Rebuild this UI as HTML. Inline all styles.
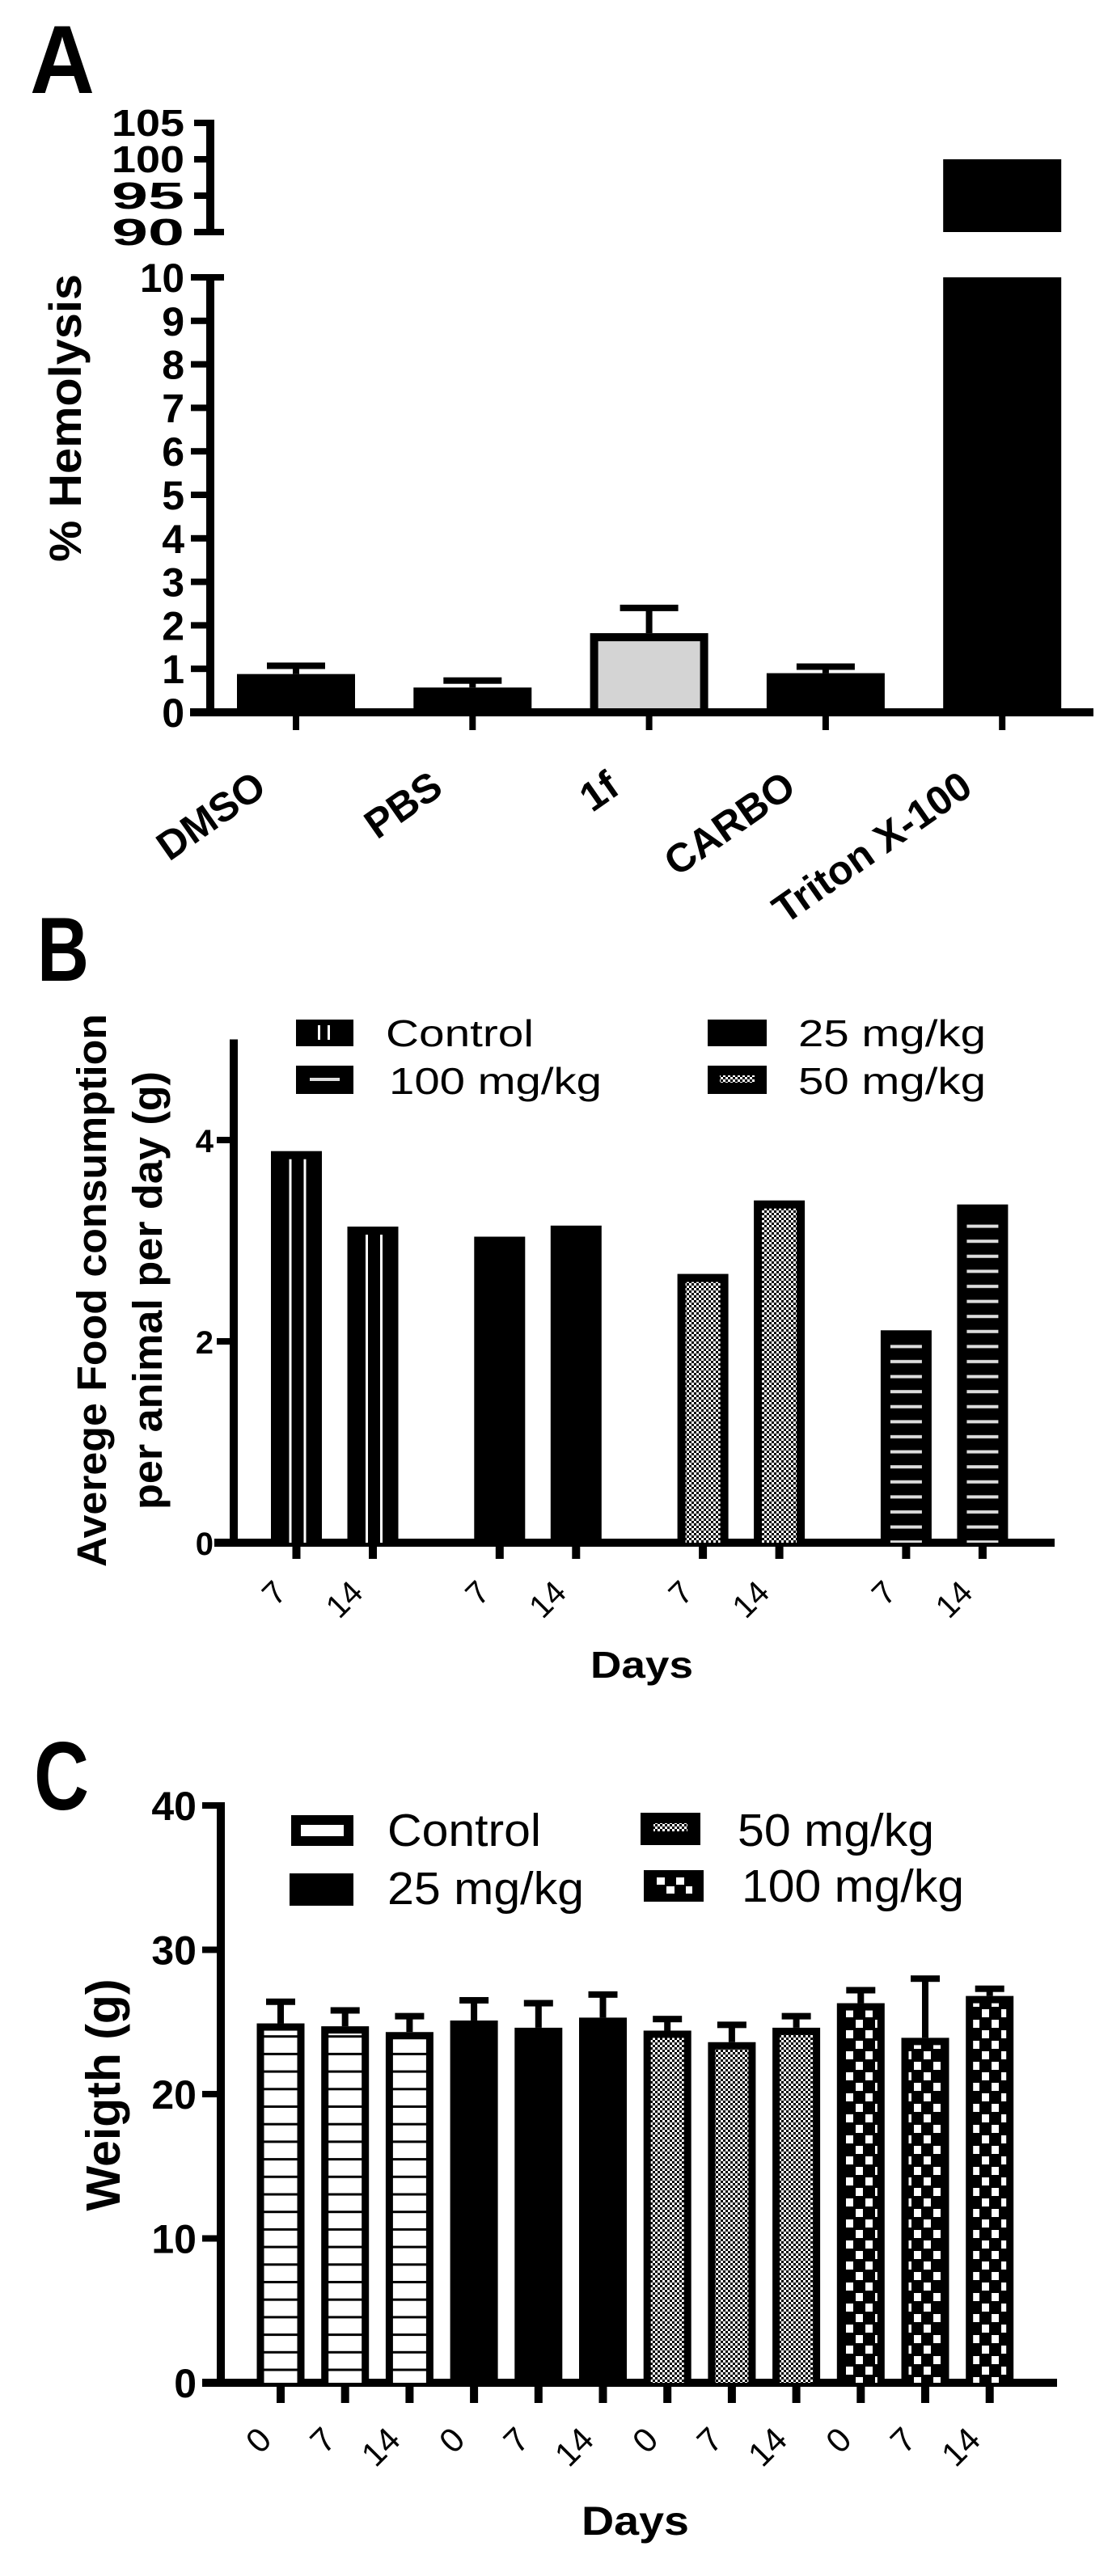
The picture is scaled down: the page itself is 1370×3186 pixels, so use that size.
<!DOCTYPE html>
<html><head><meta charset="utf-8"><style>
html,body{margin:0;padding:0;background:#fff;}
svg{display:block;}
text{font-family:"Liberation Sans",Arial,sans-serif;fill:#000;}
</style></head><body>
<svg id="fig" width="1370" height="3186" viewBox="0 0 1370 3186" xmlns="http://www.w3.org/2000/svg">
<defs>
<pattern id="pChk" width="6" height="6" patternUnits="userSpaceOnUse"><rect width="6" height="6" fill="#fff"/><rect width="3" height="3" fill="#000"/><rect x="3" y="3" width="3" height="3" fill="#000"/></pattern>
<pattern id="pBig" width="24" height="26" patternUnits="userSpaceOnUse"><rect width="24" height="26" fill="#000"/><rect x="2" y="2" width="9" height="10" fill="#fff"/><rect x="14" y="15" width="9" height="10" fill="#fff"/></pattern>
<pattern id="pHz" width="10" height="21.7" patternUnits="userSpaceOnUse"><rect width="10" height="21.7" fill="#fff"/><rect y="0" width="10" height="3" fill="#000"/></pattern>
<pattern id="pDash" width="10" height="18.6" patternUnits="userSpaceOnUse"><rect width="10" height="18.6" fill="#000"/><rect y="8" width="10" height="4" fill="#ddd"/></pattern>
</defs>

<!-- Panel A -->
<g>
<text x="37" y="115" font-size="120" font-weight="bold" textLength="80" lengthAdjust="spacingAndGlyphs">A</text>
<text transform="translate(100,517) rotate(-90)" text-anchor="middle" font-size="56" font-weight="bold" textLength="356" lengthAdjust="spacingAndGlyphs">% Hemolysis</text>
<g id="axA"></g>
<g id="barsA"></g>
</g>

<!-- Panel B -->
<g>
<text x="46" y="1213" font-size="112" font-weight="bold" textLength="64" lengthAdjust="spacingAndGlyphs">B</text>
<text transform="translate(131,1596) rotate(-90)" text-anchor="middle" font-size="51" font-weight="bold" textLength="684" lengthAdjust="spacingAndGlyphs">Averege Food consumption</text>
<text transform="translate(200,1596) rotate(-90)" text-anchor="middle" font-size="51" font-weight="bold" textLength="542" lengthAdjust="spacingAndGlyphs">per animal per day (g)</text>
<text x="730" y="2075" font-size="46" font-weight="bold" textLength="127" lengthAdjust="spacingAndGlyphs">Days</text>
<g>
 <g>
  <rect x="366" y="1261" width="71" height="33" fill="#000"/>
  <rect x="393" y="1268" width="3" height="18" fill="#fff"/><rect x="405" y="1268" width="3" height="18" fill="#fff"/>
  <text x="477" y="1294" font-size="46" textLength="183" lengthAdjust="spacingAndGlyphs">Control</text>
 </g>
 <g>
  <rect x="366" y="1318" width="71" height="35" fill="#000"/>
  <rect x="383" y="1333" width="37" height="4" fill="#ddd"/>
  <text x="481" y="1353" font-size="46" textLength="263" lengthAdjust="spacingAndGlyphs">100 mg/kg</text>
 </g>
 <g>
  <rect x="875" y="1261" width="73" height="33" fill="#000"/>
  <text x="987" y="1294" font-size="46" textLength="232" lengthAdjust="spacingAndGlyphs">25 mg/kg</text>
 </g>
 <g>
  <rect x="875" y="1318" width="73" height="35" fill="#000"/>
  <rect x="890" y="1330" width="43" height="9" fill="url(#pChk)"/>
  <text x="987" y="1353" font-size="46" textLength="232" lengthAdjust="spacingAndGlyphs">50 mg/kg</text>
 </g>
</g>
<g id="axB"></g>
<g id="barsB"></g>
</g>

<!-- Panel C -->
<g>
<text x="42" y="2238" font-size="120" font-weight="bold" textLength="68" lengthAdjust="spacingAndGlyphs">C</text>
<text transform="translate(148,2591) rotate(-90)" text-anchor="middle" font-size="59" font-weight="bold" textLength="287" lengthAdjust="spacingAndGlyphs">Weigth (g)</text>
<text x="719" y="3135" font-size="50" font-weight="bold" textLength="133" lengthAdjust="spacingAndGlyphs">Days</text>
<g>
 <g>
  <rect x="360" y="2245" width="77" height="38" fill="#000"/>
  <rect x="372" y="2257" width="53" height="14" fill="#fff"/>
  <text x="479" y="2283" font-size="57" textLength="190" lengthAdjust="spacingAndGlyphs">Control</text>
 </g>
 <g>
  <rect x="358" y="2317" width="79" height="40" fill="#000"/>
  <text x="479" y="2355" font-size="57" textLength="243" lengthAdjust="spacingAndGlyphs">25 mg/kg</text>
 </g>
 <g>
  <rect x="792" y="2242" width="74" height="40" fill="#000"/>
  <rect x="808" y="2255" width="42" height="10" fill="url(#pChk)"/>
  <text x="912" y="2283" font-size="57" textLength="243" lengthAdjust="spacingAndGlyphs">50 mg/kg</text>
 </g>
 <g>
  <rect x="796" y="2313" width="74" height="39" fill="#000"/>
  <rect x="812" y="2322" width="10" height="9" fill="#fff"/><rect x="836" y="2322" width="10" height="9" fill="#fff"/>
  <rect x="824" y="2333" width="10" height="9" fill="#fff"/><rect x="848" y="2333" width="8" height="9" fill="#fff"/>
  <text x="917" y="2352" font-size="57" textLength="275" lengthAdjust="spacingAndGlyphs">100 mg/kg</text>
 </g>
</g>
<g id="axC"></g>
<g id="barsC"></g>
</g>
</svg>
<script>
// ---------- data ----------
const catsA = ["DMSO","PBS","1f","CARBO","Triton X-100"];
const valsA = [0.88, 0.57, 1.82, 0.9, 100];
const errA = [1.07, 0.73, 2.4, 1.05, 100];
const fillsA = ["#000","#000","#d4d4d4","#000","#000"];
const ticksLowA = [0,1,2,3,4,5,6,7,8,9,10];
const ticksHighA = [90,95,100,105];

const groupsB = ["Control","25 mg/kg","50 mg/kg","100 mg/kg"];
const daysB = ["7","14"];
const valsB = [[3.89,3.14],[3.04,3.15],[2.67,3.40],[2.11,3.36]];
const ticksB = [0,2,4];

const groupsC = ["Control","25 mg/kg","50 mg/kg","100 mg/kg"];
const daysC = ["0","7","14"];
const valsC = [[24.9,24.7,24.3],[25.1,24.6,25.3],[24.4,23.6,24.6],[26.3,23.9,26.8]];
const errC = [[26.4,25.8,25.4],[26.5,26.3,26.9],[25.2,24.8,25.4],[27.2,28.0,27.3]];
const ticksC = [0,10,20,30,40];

const NS = "http://www.w3.org/2000/svg";
function mk(parent, tag, attrs){ const e=document.createElementNS(NS,tag); for(const k in attrs) e.setAttribute(k,attrs[k]); parent.appendChild(e); return e; }

// ---------- Panel A ----------
const yLowA = v => 881 - v*53.8;
const yHighA = v => 287 - (v-90)*9;
const xA = i => 366 + i*218.3;
const axA = document.getElementById('axA');
const barsA = document.getElementById('barsA');
let l;
l = mk(axA,'rect',{x:255,y:yLowA(10)-4,width:10,height:yLowA(0)-yLowA(10)+8,fill:'#000'});


l = mk(axA,'rect',{x:255,y:yHighA(105)-4,width:10,height:yHighA(90)-yHighA(105)+8,fill:'#000'});


l = mk(axA,'rect',{x:235,y:yLowA(0)-5,width:1352-235,height:10,fill:'#000'});


ticksLowA.forEach(v=>{
  const y=yLowA(v);
  const r = mk(axA,'rect',{x:236,y:y-4,width:22,height:8,fill:'#000'});
  
  
  const t = mk(axA,'text',{x:228,y:y+18,'text-anchor':'end','font-size':50,'font-weight':'bold'});
  if(String(v).length>1){ t.setAttribute('textLength',55); t.setAttribute('lengthAdjust','spacingAndGlyphs'); }
  t.textContent = v;
  
  
});
l = mk(axA,'rect',{x:255,y:yLowA(10)-4,width:22,height:8,fill:'#000'});


l = mk(axA,'rect',{x:255,y:yHighA(90)-4,width:22,height:8,fill:'#000'});


ticksHighA.forEach(v=>{
  const y=yHighA(v);
  const r = mk(axA,'rect',{x:240,y:y-4,width:20,height:8,fill:'#000'});
  
  
  const t = mk(axA,'text',{x:228,y:y+16,'text-anchor':'end','font-size':46,'font-weight':'bold',textLength:90,lengthAdjust:'spacingAndGlyphs'});
  t.textContent = v;
  
  
});
catsA.forEach((c,i)=>{
  const cx=xA(i), w=146, v=valsA[i], e=errA[i];
  if(v>10){
    let b = mk(barsA,'rect',{x:cx-w/2,y:yLowA(10),width:w,height:yLowA(0)-yLowA(10),fill:fillsA[i]});
    
    
    b = mk(barsA,'rect',{x:cx-w/2,y:yHighA(v),width:w,height:yHighA(90)-yHighA(v),fill:fillsA[i]});
    
    
  } else {
    const eb = mk(barsA,'rect',{x:cx-4,y:yLowA(e),width:8,height:yLowA(v)-yLowA(e),fill:'#000'});
    
    
    const cap = mk(barsA,'rect',{x:cx-36,y:yLowA(e)-4,width:72,height:8,fill:'#000'});
    
    
    const b = mk(barsA,'rect',{x:cx-w/2+5,y:yLowA(v)+5,width:w-10,height:yLowA(0)-yLowA(v)-5,fill:fillsA[i],stroke:'#000','stroke-width':10});
    
    
  }
  const tk = mk(barsA,'rect',{x:cx-4,y:yLowA(0),width:8,height:22,fill:'#000'});
  
  
  const t = mk(barsA,'text',{transform:`translate(${cx-34},980) rotate(-35)`,'text-anchor':'end','font-size':50,'font-weight':'bold'});
  t.textContent=c;
  
  
});

// ---------- Panel B ----------
const yB = v => 1908 - v*124.5;
const xB = (g,d) => 366.5 + g*251.3 + d*94.5;
const axB = document.getElementById('axB');
const barsB = document.getElementById('barsB');
l = mk(axB,'rect',{x:284,y:yB(5),width:10,height:yB(0)-yB(5),fill:'#000'});


l = mk(axB,'rect',{x:265,y:yB(0)-5,width:1304-265,height:10,fill:'#000'});


ticksB.forEach(v=>{
  const y=yB(v);
  const r = mk(axB,'rect',{x:268,y:y-4,width:18,height:8,fill:'#000'});
  
  
  const t = mk(axB,'text',{x:264,y:y+15,'text-anchor':'end','font-size':40,'font-weight':'bold'});
  t.textContent=v;
  
  
});
groupsB.forEach((g,gi)=>{
  daysB.forEach((d,di)=>{
    const cx=xB(gi,di), w=63, v=valsB[gi][di], top=yB(v), bot=yB(0);
    const grp = mk(barsB,'g',{});
    
    
    mk(grp,'rect',{x:cx-w/2,y:top,width:w,height:bot-top,fill:'#000'});
    if(gi===0){
      mk(grp,'rect',{x:cx-9,y:top+10,width:3,height:bot-top-10,fill:'#fff'});
      mk(grp,'rect',{x:cx+9,y:top+10,width:3,height:bot-top-10,fill:'#fff'});
    } else if(gi===2){
      mk(grp,'rect',{x:cx-w/2+10,y:top+10,width:w-20,height:bot-top-10,fill:'url(#pChk)'});
    } else if(gi===3){
      mk(grp,'rect',{x:cx-w/2+12,y:top+12,width:w-24,height:bot-top-12,fill:'url(#pDash)'});
    }
    const tk = mk(barsB,'rect',{x:cx-5,y:bot,width:10,height:20,fill:'#000'});
    
    
    const t = mk(barsB,'text',{transform:`translate(${cx-10},1972) rotate(-45)`,'text-anchor':'end','font-size':40});
    t.textContent=d;
    
    
  });
});

// ---------- Panel C ----------
const yC = v => 2947 - v*17.85;
const xC = i => 347 + i*79.7;
const axC = document.getElementById('axC');
const barsC = document.getElementById('barsC');
l = mk(axC,'rect',{x:268,y:yC(40)-4,width:10,height:yC(0)-yC(40)+4,fill:'#000'});


l = mk(axC,'rect',{x:250,y:yC(0)-5,width:1307-250,height:10,fill:'#000'});


ticksC.forEach(v=>{
  const y=yC(v);
  const r = mk(axC,'rect',{x:250,y:y-4,width:20,height:8,fill:'#000'});
  
  
  const t = mk(axC,'text',{x:243,y:y+18,'text-anchor':'end','font-size':50,'font-weight':'bold'});
  t.textContent=v;
  
  
});
groupsC.forEach((g,gi)=>{
  daysC.forEach((d,di)=>{
    const i=gi*3+di, cx=xC(i), w=59, v=valsC[gi][di], e=errC[gi][di], top=yC(v), bot=yC(0);
    const eb = mk(barsC,'rect',{x:cx-4,y:yC(e),width:8,height:top-yC(e),fill:'#000'});
    
    
    const cap = mk(barsC,'rect',{x:cx-18,y:yC(e)-4,width:36,height:8,fill:'#000'});
    
    
    const grp = mk(barsC,'g',{});
    
    
    mk(grp,'rect',{x:cx-w/2,y:top,width:w,height:bot-top,fill:'#000'});
    if(gi===0) mk(grp,'rect',{x:cx-w/2+9,y:top+9,width:w-18,height:bot-top-9,fill:'url(#pHz)'});
    else if(gi===2) mk(grp,'rect',{x:cx-w/2+9,y:top+9,width:w-18,height:bot-top-9,fill:'url(#pChk)'});
    else if(gi===3) mk(grp,'rect',{x:cx-w/2+9,y:top+9,width:w-18,height:bot-top-9,fill:'url(#pBig)'});
    const tk = mk(barsC,'rect',{x:cx-5,y:bot,width:10,height:25,fill:'#000'});
    
    
    const t = mk(barsC,'text',{transform:`translate(${cx-9},3020) rotate(-45)`,'text-anchor':'end','font-size':42});
    t.textContent=d;
    
    
  });
});
</script>
</body></html>
